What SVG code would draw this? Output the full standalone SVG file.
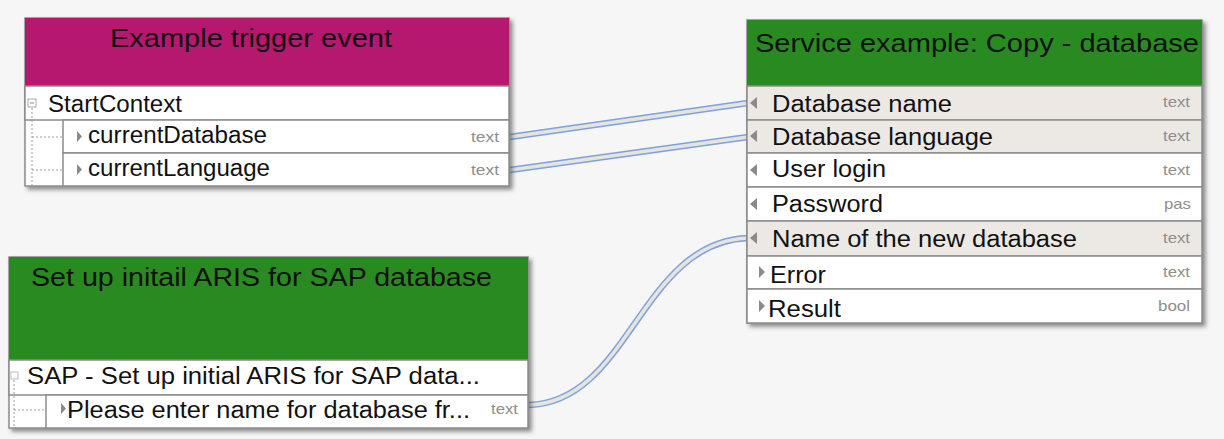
<svg xmlns="http://www.w3.org/2000/svg" width="1224" height="439" viewBox="0 0 1224 439">
<defs>
<style>
.t{font-family:"Liberation Sans",Arial,sans-serif;fill:#111}
.h{font-size:25px}
.r{font-size:23px}
.ty{font-family:"Liberation Sans",Arial,sans-serif;font-size:15px;fill:#8e8e8e}
.row{fill:#fff;stroke:#8c8c8c;stroke-width:1.5}
.rowg{fill:#ece9e5;stroke:#8c8c8c;stroke-width:1.5}
.tri{fill:#8a8a8a}
.tree{stroke:#9a9a9a;stroke-width:1;stroke-dasharray:2 2;fill:none}
.c1{fill:none;stroke:#7ea2da;stroke-width:6.5}
.c2{fill:none;stroke:#e6e4e0;stroke-width:3.5}
</style>
<filter id="sh" x="-5%" y="-5%" width="115%" height="120%">
<feDropShadow dx="3" dy="3" stdDeviation="2" flood-color="#444" flood-opacity="0.6"/>
</filter>
</defs>
<rect width="1224" height="439" fill="#f6f6f6"/>

<g id="connectors">
<path class="c1" d="M510,137 L748,103"/><path class="c2" d="M510,137 L748,103"/>
<path class="c1" d="M510,170 L748,137"/><path class="c2" d="M510,170 L748,137"/>
<path class="c1" d="M529,405 C630,402 640,242 748,238"/><path class="c2" d="M529,405 C630,402 640,242 748,238"/>
</g>

<g id="node-trigger">
<g filter="url(#sh)">
<rect x="25" y="18" width="484" height="168" fill="#fff" stroke="#8c8c8c" stroke-width="1.5"/>
</g>
<rect x="25" y="18" width="484" height="68" fill="#b5186e"/>
<text class="t h" x="110" y="47" textLength="282" lengthAdjust="spacingAndGlyphs">Example trigger event</text>
<rect class="row" x="25" y="86" width="484" height="34"/>
<rect x="28" y="99" width="8" height="8" fill="#fff" stroke="#aaa" stroke-width="1"/>
<line x1="30" y1="103" x2="34" y2="103" stroke="#888" stroke-width="1"/>
<text class="t r" x="48" y="112" textLength="134" lengthAdjust="spacingAndGlyphs">StartContext</text>
<path class="tree" d="M32,108 V186 M32,137 H63 M32,170 H63"/>
<rect class="row" x="63" y="120" width="446" height="33"/>
<rect class="row" x="63" y="153" width="446" height="33"/>
<path class="tri" d="M77,131 L82,136.5 L77,142 Z"/>
<path class="tri" d="M77,164 L82,169.5 L77,175 Z"/>
<text class="t r" x="88" y="143" textLength="179" lengthAdjust="spacingAndGlyphs">currentDatabase</text>
<text class="t r" x="88" y="176" textLength="182" lengthAdjust="spacingAndGlyphs">currentLanguage</text>
<text class="ty" x="471" y="142" textLength="28" lengthAdjust="spacingAndGlyphs">text</text>
<text class="ty" x="471" y="175" textLength="28" lengthAdjust="spacingAndGlyphs">text</text>
</g>

<g id="node-service">
<g filter="url(#sh)">
<rect x="747" y="20" width="455" height="303" fill="#fff" stroke="#8c8c8c" stroke-width="1.5"/>
</g>
<rect x="747" y="20" width="455" height="66" fill="#2a8a22"/>
<text class="t h" x="755" y="52" textLength="444" lengthAdjust="spacingAndGlyphs">Service example: Copy - database</text>
<rect class="rowg" x="747" y="86" width="455" height="34"/>
<rect class="rowg" x="747" y="120" width="455" height="33"/>
<rect class="row" x="747" y="153" width="455" height="34"/>
<rect class="row" x="747" y="187" width="455" height="34" fill="#fbfbfb"/>
<rect class="rowg" x="747" y="221" width="455" height="35"/>
<rect class="row" x="747" y="256" width="455" height="33"/>
<rect class="row" x="747" y="289" width="455" height="34"/>
<path class="tri" d="M757,97 L750,103 L757,109 Z"/>
<path class="tri" d="M757,130 L750,136 L757,142 Z"/>
<path class="tri" d="M757,164 L750,170 L757,176 Z"/>
<path class="tri" d="M757,198 L750,204 L757,210 Z"/>
<path class="tri" d="M757,232 L750,238 L757,244 Z"/>
<path class="tri" d="M759,266 L765,272 L759,278 Z"/>
<path class="tri" d="M759,300 L765,306 L759,312 Z"/>
<text class="t r" x="772" y="112" textLength="180" lengthAdjust="spacingAndGlyphs">Database name</text>
<text class="t r" x="772" y="145" textLength="221" lengthAdjust="spacingAndGlyphs">Database language</text>
<text class="t r" x="772" y="177" textLength="114" lengthAdjust="spacingAndGlyphs">User login</text>
<text class="t r" x="772" y="212" textLength="111" lengthAdjust="spacingAndGlyphs">Password</text>
<text class="t r" x="772" y="247" textLength="305" lengthAdjust="spacingAndGlyphs">Name of the new database</text>
<text class="t r" x="770" y="283" textLength="56" lengthAdjust="spacingAndGlyphs">Error</text>
<text class="t r" x="768" y="317" textLength="73" lengthAdjust="spacingAndGlyphs">Result</text>
<text class="ty" x="1163" y="107" textLength="27" lengthAdjust="spacingAndGlyphs">text</text>
<text class="ty" x="1163" y="141" textLength="27" lengthAdjust="spacingAndGlyphs">text</text>
<text class="ty" x="1163" y="175" textLength="27" lengthAdjust="spacingAndGlyphs">text</text>
<text class="ty" x="1164" y="209" textLength="27" lengthAdjust="spacingAndGlyphs">pas</text>
<text class="ty" x="1163" y="243" textLength="27" lengthAdjust="spacingAndGlyphs">text</text>
<text class="ty" x="1163" y="277" textLength="27" lengthAdjust="spacingAndGlyphs">text</text>
<text class="ty" x="1158" y="311" textLength="32" lengthAdjust="spacingAndGlyphs">bool</text>
</g>

<g id="node-setup">
<g filter="url(#sh)">
<rect x="9" y="257" width="519" height="171" fill="#fff" stroke="#8c8c8c" stroke-width="1.5"/>
</g>
<rect x="9" y="257" width="519" height="103" fill="#2a8a22"/>
<text class="t h" x="31" y="286" textLength="461" lengthAdjust="spacingAndGlyphs">Set up initail ARIS for SAP database</text>
<rect class="row" x="9" y="360" width="519" height="35"/>
<rect x="11" y="372" width="7" height="7" fill="#fff" stroke="#bbb" stroke-width="1"/>
<text class="t r" x="27" y="384" textLength="453" lengthAdjust="spacingAndGlyphs">SAP - Set up initial ARIS for SAP data...</text>
<path class="tree" d="M14,380 V428 M14,410 H46"/>
<rect class="row" x="46" y="395" width="482" height="33"/>
<path class="tri" d="M61,403 L66,408.5 L61,414 Z"/>
<text class="t r" x="67" y="418" textLength="403" lengthAdjust="spacingAndGlyphs">Please enter name for database fr...</text>
<text class="ty" x="491" y="414" textLength="27" lengthAdjust="spacingAndGlyphs">text</text>
</g>
</svg>
